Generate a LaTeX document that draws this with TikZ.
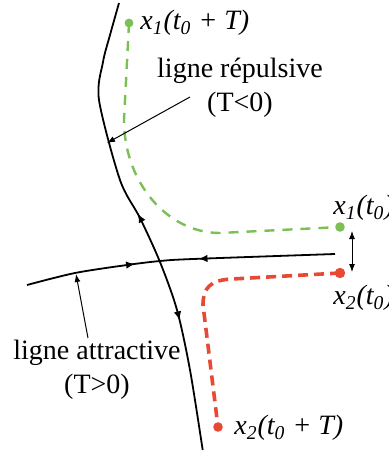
\documentclass[tikz,border=0pt]{standalone}
\usepackage{fontspec}
\setmainfont{Liberation Serif}
\usetikzlibrary{decorations.markings,arrows.meta}

\definecolor{vert}{RGB}{122,192,84}
\definecolor{rouge}{RGB}{232,72,52}

\begin{document}
\begin{tikzpicture}[x=0.5pt,y=-0.5pt,>=latex,
    courbe/.style={line width=0.9pt},
    fleche/.style={->,line width=0.5pt,>={Latex[length=4pt,width=3pt]}},
    etiq/.style={font=\fontsize{14}{17}\selectfont,align=center,inner sep=0pt},
    traj/.style={font=\fontsize{14}{17}\selectfont\itshape,anchor=west,inner sep=0pt}]
        \clip (0,0) rectangle (388,450);
        % ligne repulsive
        \draw[courbe,postaction={decorate},decoration={markings,
            mark=at position 0.47 with {\arrowreversed{Latex[length=4.5pt,width=3.8pt]}},
            mark=at position 0.715 with {\arrow{Latex[length=4.5pt,width=3.8pt]}}}]
            plot[smooth] coordinates {(119,3) (110,35) (103,62) (99,100) (120,180) (140,218) (160,262) (177,310) (190,370) (203,452)};
        % ligne attractive
        \draw[courbe,postaction={decorate},decoration={markings,
            mark=at position 0.355 with {\arrow{Latex[length=4.5pt,width=3.8pt]}},
            mark=at position 0.56 with {\arrowreversed{Latex[length=4.5pt,width=3.8pt]}}}]
            plot[smooth] coordinates {(27,285) (75,273) (127,265) (160,261) (193,259) (335,254)};
        % trajectoires
        \draw[vert,line width=1.2pt,dash pattern=on 5pt off 4pt]
            (129,23) -- (124,120) .. controls (124,182) and (167,233) .. (220,233) -- (340,227);
        \draw[rouge,line width=1.8pt,dash pattern=on 5pt off 3pt]
            (340,273) -- (232,279) .. controls (210,280) and (203,288) .. (203,305) -- (218,427);
        \fill[vert] (129,23) circle (2.2pt);
        \fill[vert] (340,227) circle (2.4pt);
        \fill[rouge] (340,273) circle (2.6pt);
        \fill[rouge] (218,427) circle (2.4pt);
        % etiquettes
        \node[traj] (x1T) at (140,23) {x\textsubscript{1}(t\textsubscript{0} + T)};
        \node[traj] (x1) at (333,208) {x\textsubscript{1}(t\textsubscript{0})};
        \node[traj] (x2) at (333,298) {x\textsubscript{2}(t\textsubscript{0})};
        \node[traj] (x2T) at (234,428) {x\textsubscript{2}(t\textsubscript{0} + T)};
        \node[etiq] (rep) at (240,88) {ligne répulsive\\(T<0)};
        \node[etiq] (att) at (97,370) {ligne attractive\\(T>0)};
        \coordinate (repd) at (190,97);
        \coordinate (repA) at (107,143);
        \coordinate (attd) at (88,338);
        \coordinate (attA) at (76,274);
        \coordinate (h) at (352,231);
        \coordinate (b) at (352,272);
        \draw[fleche] (repd) -- (repA);
        \draw[fleche] (attd) -- (attA);
        \draw[fleche,<->] (h) -- (b);
    \end{tikzpicture}
\end{document}
